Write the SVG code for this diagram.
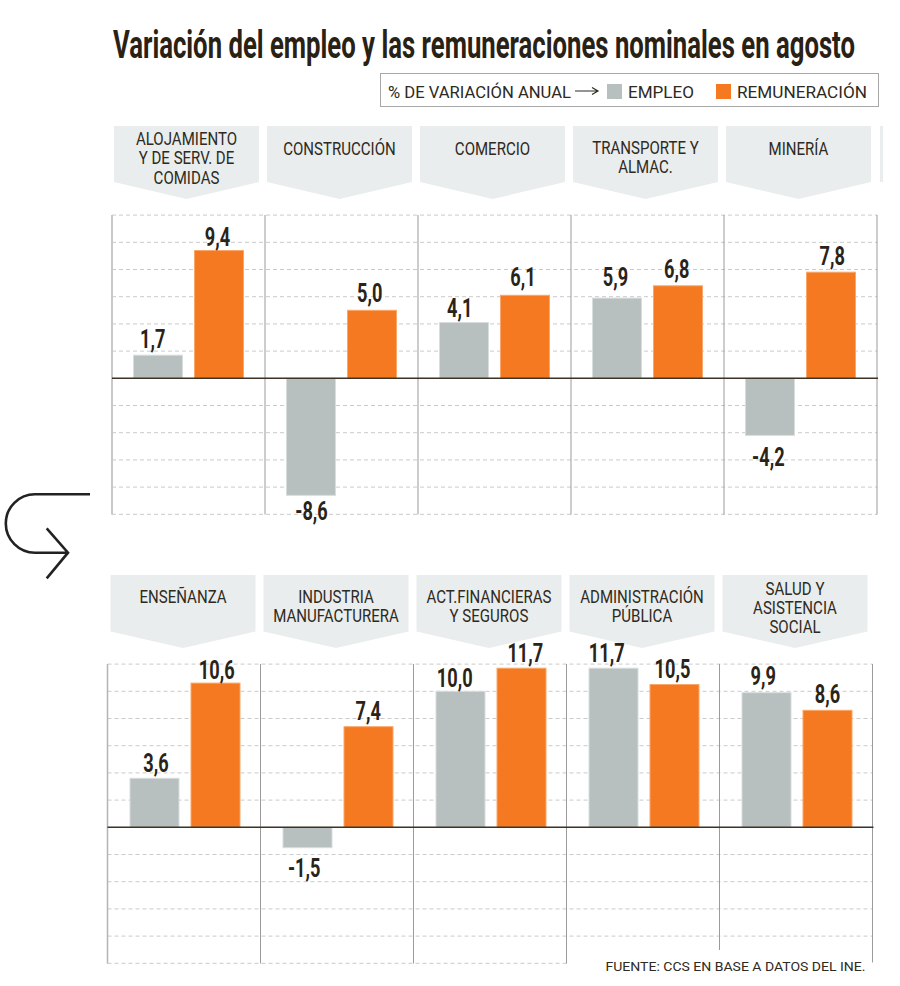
<svg xmlns="http://www.w3.org/2000/svg" width="900" height="986" viewBox="0 0 900 986">
<style>
.tab{fill:#e9eded}
.lbl{font-family:Roboto,"Liberation Sans",sans-serif;font-size:17.5px;fill:#2e2a22;text-anchor:middle}
.val{font-family:Roboto,"Liberation Sans",sans-serif;font-weight:bold;font-size:26px;fill:#2a2418;text-anchor:middle}
.grid{stroke:#cacaca;stroke-dasharray:4 3;stroke-width:1;fill:none}
.sep{stroke:#9b9b9b;stroke-width:1}
.edge{stroke:#c8c8c8;stroke-width:2}
.zero{stroke:#3b3325;stroke-width:1.5}
.emp{fill:#b8bfbf;stroke:#d8dddd;stroke-width:1}
.rem{fill:#f47920;stroke:#f9a76a;stroke-width:1}
.leg{font-family:Roboto,"Liberation Sans",sans-serif;font-size:16.5px;fill:#2e2a22}
</style>
<rect width="900" height="986" fill="#ffffff"/>

<g id="title">
<text transform="translate(113 58) scale(0.65 1)" x="0" y="0" font-family="Roboto,'Liberation Sans',sans-serif" font-weight="bold" font-size="39" fill="#2a2115" textLength="1141.5" lengthAdjust="spacingAndGlyphs">Variación del empleo y las remuneraciones nominales en agosto</text>
</g>

<g id="legend">
<rect x="380.5" y="73.5" width="498" height="33" fill="#ffffff" stroke="#a8a8a8" stroke-width="1"/>
<text class="leg" x="388" y="98" textLength="183" lengthAdjust="spacingAndGlyphs">% DE VARIACIÓN ANUAL</text>
<path d="M575,91 H598 M592,87.5 L598,91 L592,94.5" fill="none" stroke="#2e2a22" stroke-width="1.2"/>
<rect x="607" y="84" width="15" height="15" fill="#b8bfbf"/>
<text class="leg" x="628" y="98" textLength="66" lengthAdjust="spacingAndGlyphs">EMPLEO</text>
<rect x="716" y="84" width="15" height="15" fill="#f47920"/>
<text class="leg" x="737" y="98" textLength="130" lengthAdjust="spacingAndGlyphs">REMUNERACIÓN</text>
</g>

<g id="grid-top">
<path class="grid" d="M112,215.1H877 M112,242.3H877 M112,269.5H877 M112,296.7H877 M112,323.9H877 M112,351.1H877 M112,405.5H877 M112,432.7H877 M112,459.9H877 M112,487.1H877 M112,514.3H877"/>
<line class="edge" x1="112" y1="215" x2="112" y2="514.5"/>
<path class="sep" d="M265,215V514.5 M418,215V514.5 M571,215V514.5 M724,215V514.5 M877,215V514.5"/>
</g>

<g id="grid-bottom">
<path class="grid" d="M107.5,664.1H872.5 M107.5,691.3H872.5 M107.5,718.5H872.5 M107.5,745.7H872.5 M107.5,772.9H872.5 M107.5,800.1H872.5 M107.5,854.5H872.5 M107.5,881.7H872.5 M107.5,908.9H872.5 M107.5,936.1H872.5 M107.5,963.3H566.5"/>
<line x1="107.5" y1="664" x2="107.5" y2="963.5" stroke="#b4b4b4" stroke-width="1.5"/>
<path class="sep" d="M260.5,664V963.5 M413.5,664V963.5 M566.5,664V963.5 M719.5,664V950 M872.5,664V962.5"/>
</g>

<rect x="880" y="126" width="3" height="56" fill="#e9eded"/>

<g id="n-alojamiento">
<path class="tab" d="M114,126H259V182L186.5,199L114,182Z"/>
<text class="lbl" transform="translate(186.5 145) scale(0.86 1)"><tspan x="0" y="0">ALOJAMIENTO</tspan><tspan x="0" y="19.5">Y DE SERV. DE</tspan><tspan x="0" y="39">COMIDAS</tspan></text>
<rect class="emp" x="133.5" y="355.2" width="49" height="23.1"/>
<rect class="rem" x="194.5" y="250.5" width="49" height="127.8"/>
<text class="val" transform="translate(152.8 348.3) scale(0.7 1)">1,7</text>
<text class="val" transform="translate(217.5 246) scale(0.7 1)">9,4</text>
</g>

<g id="n-construccion">
<path class="tab" d="M267,126H412V182L339.5,199L267,182Z"/>
<text class="lbl" transform="translate(339.5 154.5) scale(0.86 1)">CONSTRUCCIÓN</text>
<rect class="emp" x="286.5" y="378.3" width="49" height="117"/>
<rect class="rem" x="347.5" y="310.3" width="49" height="68"/>
<text class="val" transform="translate(311.5 520) scale(0.7 1)">-8,6</text>
<text class="val" transform="translate(369.7 301.7) scale(0.7 1)">5,0</text>
</g>

<g id="n-comercio">
<path class="tab" d="M420,126H565V182L492.5,199L420,182Z"/>
<text class="lbl" transform="translate(492.5 154.5) scale(0.86 1)">COMERCIO</text>
<rect class="emp" x="439.5" y="322.5" width="49" height="55.8"/>
<rect class="rem" x="500.5" y="295.3" width="49" height="83"/>
<text class="val" transform="translate(459.8 317.3) scale(0.7 1)">4,1</text>
<text class="val" transform="translate(523 286) scale(0.7 1)">6,1</text>
</g>

<g id="n-transporte">
<path class="tab" d="M573,126H718V182L645.5,199L573,182Z"/>
<text class="lbl" transform="translate(645.5 154.3) scale(0.86 1)"><tspan x="0" y="0">TRANSPORTE Y</tspan><tspan x="0" y="18.5">ALMAC.</tspan></text>
<rect class="emp" x="592.5" y="298.1" width="49" height="80.2"/>
<rect class="rem" x="653.5" y="285.8" width="49" height="92.5"/>
<text class="val" transform="translate(615.5 286) scale(0.7 1)">5,9</text>
<text class="val" transform="translate(676.7 278.3) scale(0.7 1)">6,8</text>
</g>

<g id="n-mineria">
<path class="tab" d="M726,126H871V182L798.5,199L726,182Z"/>
<text class="lbl" transform="translate(798.5 154.5) scale(0.86 1)">MINERÍA</text>
<rect class="emp" x="745.5" y="378.3" width="49" height="57.1"/>
<rect class="rem" x="806.5" y="272.2" width="49" height="106.1"/>
<text class="val" transform="translate(768.3 466) scale(0.7 1)">-4,2</text>
<text class="val" transform="translate(832.3 265) scale(0.7 1)">7,8</text>
</g>

<g id="n-ensenanza">
<path class="tab" d="M110.5,575H255.5V631.5L183,648L110.5,631.5Z"/>
<text class="lbl" transform="translate(183 603.3) scale(0.86 1)">ENSEÑANZA</text>
<rect class="emp" x="130" y="778.3" width="49" height="49"/>
<rect class="rem" x="191" y="683.1" width="49" height="144.2"/>
<text class="val" transform="translate(156 771.7) scale(0.7 1)">3,6</text>
<text class="val" transform="translate(216.7 679.3) scale(0.7 1)">10,6</text>
</g>

<g id="n-industria">
<path class="tab" d="M263.5,575H408.5V631.5L336,648L263.5,631.5Z"/>
<text class="lbl" transform="translate(336 603.3) scale(0.86 1)"><tspan x="0" y="0">INDUSTRIA</tspan><tspan x="0" y="18.5">MANUFACTURERA</tspan></text>
<rect class="emp" x="283" y="827.3" width="49" height="20.4"/>
<rect class="rem" x="344" y="726.7" width="49" height="100.6"/>
<text class="val" transform="translate(304.2 876.7) scale(0.7 1)">-1,5</text>
<text class="val" transform="translate(368.3 720) scale(0.7 1)">7,4</text>
</g>

<g id="n-financieras">
<path class="tab" d="M416.5,575H561.5V631.5L489,648L416.5,631.5Z"/>
<text class="lbl" transform="translate(489 603.3) scale(0.86 1)"><tspan x="0" y="0">ACT.FINANCIERAS</tspan><tspan x="0" y="18.5">Y SEGUROS</tspan></text>
<rect class="emp" x="436" y="691.3" width="49" height="136"/>
<rect class="rem" x="497" y="668.2" width="49" height="159.1"/>
<text class="val" transform="translate(454.7 686.7) scale(0.7 1)">10,0</text>
<text class="val" transform="translate(525.3 661.7) scale(0.7 1)">11,7</text>
</g>

<g id="n-administracion">
<path class="tab" d="M569.5,575H714.5V631.5L642,648L569.5,631.5Z"/>
<text class="lbl" transform="translate(642 602.7) scale(0.86 1)"><tspan x="0" y="0">ADMINISTRACIÓN</tspan><tspan x="0" y="19">PÚBLICA</tspan></text>
<rect class="emp" x="589" y="668.2" width="49" height="159.1"/>
<rect class="rem" x="650" y="684.5" width="49" height="142.8"/>
<text class="val" transform="translate(606.7 661.7) scale(0.7 1)">11,7</text>
<text class="val" transform="translate(672.5 678.3) scale(0.7 1)">10,5</text>
</g>

<g id="n-salud">
<path class="tab" d="M722.5,575H867.5V631.5L795,648L722.5,631.5Z"/>
<text class="lbl" transform="translate(795 595) scale(0.86 1)"><tspan x="0" y="0">SALUD Y</tspan><tspan x="0" y="19">ASISTENCIA</tspan><tspan x="0" y="37.7">SOCIAL</tspan></text>
<rect class="emp" x="742" y="692.7" width="49" height="134.6"/>
<rect class="rem" x="803" y="710.3" width="49" height="117"/>
<text class="val" transform="translate(763.3 685) scale(0.7 1)">9,9</text>
<text class="val" transform="translate(827.5 703.3) scale(0.7 1)">8,6</text>
</g>

<g id="zero-lines">
<line class="zero" x1="112" y1="378.3" x2="878" y2="378.3"/>
<line class="zero" x1="107.5" y1="827.3" x2="873.5" y2="827.3"/>
</g>

<g id="connectors">
<path d="M90,494.3 H35 A29.2,29.2 0 0 0 35,552.7 H68 M46.7,528.3 L68,552.7 L46.7,578.3" fill="none" stroke="#222222" stroke-width="2.6" stroke-linejoin="miter"/>
</g>

<g id="footer">
<text x="605.5" y="971" font-family="Roboto,'Liberation Sans',sans-serif" font-size="13.5" fill="#2e2a22" textLength="260" lengthAdjust="spacingAndGlyphs">FUENTE: CCS EN BASE A DATOS DEL INE.</text>
</g>
</svg>
